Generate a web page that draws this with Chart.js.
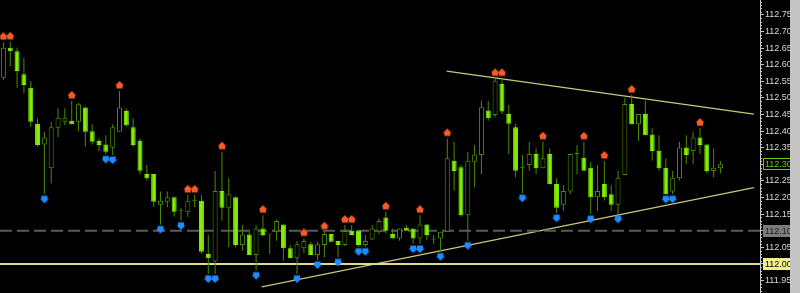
<!DOCTYPE html>
<html>
<head>
<meta charset="utf-8">
<script src="https://cdn.jsdelivr.net/npm/chart.js@4.4.1/dist/chart.umd.min.js"></script>
<style>
  html, body { margin: 0; padding: 0; background: #000; }
  #wrap { position: relative; width: 800px; height: 293px; overflow: hidden; }
</style>
</head>
<body>
<div id="wrap"><canvas id="grafico" width="800" height="293"></canvas></div>
<script>
// --- DATOS (velas) ---
const opens = [
  112.561, 112.651, 112.641, 112.571, 112.531, 112.422, 112.360, 112.288, 112.410, 112.428,
  112.431, 112.428, 112.471, 112.400, 112.370, 112.360, 112.350, 112.398, 112.461, 112.412,
  112.371, 112.271, 112.271, 112.178, 112.187, 112.201, 112.160, 112.157, 112.190, 112.190,
  112.030, 112.007, 112.220, 112.169, 112.201, 112.057, 112.089, 112.027, 112.107, 112.089,
  112.097, 112.119, 112.047, 112.017, 112.047, 112.059, 112.027, 112.057, 112.090, 112.069,
  112.057, 112.100, 112.100, 112.057, 112.074, 112.097, 112.140, 112.090, 112.077, 112.109,
  112.107, 112.077, 112.119, 112.074, 112.077, 112.097, 112.311, 112.291, 112.147, 112.308,
  112.328, 112.462, 112.449, 112.542, 112.452, 112.412, 112.290, 112.298, 112.331, 112.288,
  112.331, 112.241, 112.178, 112.218, 112.331, 112.320, 112.290, 112.201, 112.241, 112.210,
  112.178, 112.268, 112.482, 112.421, 112.452, 112.390, 112.341, 112.290, 112.218, 112.258,
  112.351, 112.340, 112.381, 112.360, 112.280, 112.288
];
const highs = [
  112.668, 112.669, 112.651, 112.621, 112.551, 112.439, 112.398, 112.428, 112.469, 112.469,
  112.491, 112.485, 112.474, 112.421, 112.378, 112.388, 112.421, 112.521, 112.469, 112.439,
  112.378, 112.298, 112.271, 112.218, 112.218, 112.202, 112.168, 112.208, 112.208, 112.208,
  112.087, 112.280, 112.338, 112.258, 112.201, 112.117, 112.097, 112.117, 112.147, 112.089,
  112.134, 112.119, 112.057, 112.069, 112.077, 112.067, 112.067, 112.097, 112.090, 112.069,
  112.117, 112.117, 112.100, 112.087, 112.117, 112.137, 112.157, 112.107, 112.107, 112.117,
  112.107, 112.147, 112.119, 112.087, 112.097, 112.378, 112.368, 112.298, 112.338, 112.358,
  112.492, 112.491, 112.559, 112.559, 112.479, 112.422, 112.328, 112.368, 112.348, 112.368,
  112.348, 112.258, 112.238, 112.331, 112.358, 112.368, 112.308, 112.298, 112.310, 112.238,
  112.281, 112.499, 112.509, 112.452, 112.492, 112.409, 112.388, 112.318, 112.281, 112.368,
  112.388, 112.398, 112.409, 112.360, 112.348, 112.310
];
const lows = [
  112.554, 112.594, 112.531, 112.514, 112.413, 112.353, 112.210, 112.242, 112.382, 112.418,
  112.421, 112.400, 112.353, 112.360, 112.340, 112.330, 112.328, 112.398, 112.413, 112.353,
  112.271, 112.251, 112.172, 112.119, 112.171, 112.142, 112.130, 112.142, 112.171, 112.030,
  111.970, 111.970, 112.130, 112.050, 112.050, 112.040, 112.027, 111.980, 112.082, 112.030,
  112.070, 112.010, 112.017, 111.970, 112.034, 112.027, 112.012, 112.020, 112.066, 112.020,
  112.054, 112.087, 112.052, 112.052, 112.072, 112.090, 112.092, 112.077, 112.070, 112.100,
  112.060, 112.060, 112.072, 112.060, 112.037, 112.097, 112.221, 112.142, 112.070, 112.231,
  112.271, 112.431, 112.442, 112.452, 112.331, 112.261, 112.213, 112.281, 112.271, 112.288,
  112.240, 112.153, 112.160, 112.211, 112.271, 112.281, 112.150, 112.160, 112.191, 112.160,
  112.150, 112.268, 112.421, 112.371, 112.388, 112.311, 112.281, 112.210, 112.210, 112.251,
  112.301, 112.301, 112.331, 112.273, 112.261, 112.273
];
const closes = [
  112.651, 112.641, 112.581, 112.539, 112.428, 112.358, 112.381, 112.412, 112.440, 112.440,
  112.421, 112.481, 112.398, 112.368, 112.358, 112.338, 112.412, 112.471, 112.418, 112.358,
  112.281, 112.258, 112.187, 112.190, 112.201, 112.157, 112.160, 112.190, 112.190, 112.037,
  112.017, 112.220, 112.169, 112.210, 112.057, 112.089, 112.027, 112.107, 112.087, 112.089,
  112.129, 112.047, 112.017, 112.059, 112.069, 112.027, 112.059, 112.090, 112.067, 112.057,
  112.099, 112.087, 112.057, 112.069, 112.107, 112.129, 112.100, 112.077, 112.107, 112.100,
  112.077, 112.119, 112.087, 112.074, 112.097, 112.318, 112.280, 112.147, 112.311, 112.330,
  112.472, 112.439, 112.552, 112.459, 112.422, 112.281, 112.290, 112.331, 112.288, 112.318,
  112.240, 112.169, 112.220, 112.331, 112.331, 112.281, 112.201, 112.220, 112.201, 112.178,
  112.260, 112.482, 112.421, 112.452, 112.388, 112.340, 112.288, 112.210, 112.260, 112.351,
  112.328, 112.381, 112.358, 112.280, 112.290, 112.300
];

// fractales (indices de vela)
const fractalesArriba = [0, 1, 10, 17, 27, 28, 32, 38, 44, 47, 50, 51, 56, 61, 65, 72, 73, 79, 85, 88, 92, 102];
const fractalesAbajo = [6, 15, 16, 23, 26, 30, 31, 37, 43, 46, 49, 52, 53, 60, 61, 64, 68, 76, 81, 86, 90, 97, 98];

// lineas dibujadas: [indice, precio]
const tendenciaSuperior = [[64.9, 112.581], [109.9, 112.451]];
const tendenciaInferior = [[37.82, 111.931], [109.9, 112.230]];
const nivelSoporte = 112.000;
const nivelDiscontinuo = 112.100;

// eje de precios
const precioMin = 111.9125;
const precioMax = 112.795;
const pasoEtiqueta = 0.05;
const xMin = -0.5;
const xMax = 110.79;

// --- ESTILOS ---
const VERDE = '#80f000';
const VERDE_OSC = '#4a8c00';
const GRIS_EJE = '#c8c8c8';
const FUENTE = "'Liberation Sans Narrow', 'Liberation Sans', Arial, sans-serif";

function crearFlecha(arriba, color) {
    const c = document.createElement('canvas');
    c.width = 20; c.height = 26;
    const g = c.getContext('2d');
    g.fillStyle = color;
    g.translate(10, arriba ? 13 - 6 : 13 + 5);
    const s = arriba ? 1 : -1;
    g.beginPath();
    g.moveTo(0, -4 * s);
    g.lineTo(4.5, 0.5 * s);
    g.lineTo(3, 0.5 * s);
    g.lineTo(3, 3.5 * s);
    g.lineTo(-3, 3.5 * s);
    g.lineTo(-3, 0.5 * s);
    g.lineTo(-4.5, 0.5 * s);
    g.closePath();
    g.fill();
    return c;
}

const flechaRoja = crearFlecha(true, '#f85a28');
const flechaAzul = crearFlecha(false, '#1e8cff');

const esAlcista = i => closes[i] >= opens[i];

// --- PLUGIN: marcas menores, etiquetas de precio y borde ---
const marcasEje = {
    id: 'marcasEje',
    afterDraw(chart) {
        const ctx = chart.ctx;
        const ey = chart.scales.y;
        const x0 = ey.left;
        ctx.save();
        ctx.strokeStyle = GRIS_EJE;
        ctx.lineWidth = 1;
        for (let k = Math.ceil(ey.min * 100); k <= Math.floor(ey.max * 100); k++) {
            if (k % 5 === 0) continue;
            const py = Math.round(ey.getPixelForValue(k / 100)) + 0.5;
            ctx.beginPath();
            ctx.moveTo(x0, py);
            ctx.lineTo(x0 + 2, py);
            ctx.stroke();
        }

        const etiquetas = [
            { v: closes[closes.length - 1], fondo: '#000', borde: '#5fd400', texto: '#5fd400' },
            { v: nivelDiscontinuo, fondo: '#7c7c7c', borde: '#7c7c7c', texto: '#202020' },
            { v: nivelSoporte, fondo: '#f0f08c', borde: '#f0f08c', texto: '#000' }
        ];
        ctx.font = '9px ' + FUENTE;
        ctx.textBaseline = 'middle';
        etiquetas.forEach(e => {
            const py = Math.round(ey.getPixelForValue(e.v));
            ctx.fillStyle = e.fondo;
            ctx.fillRect(x0 + 3, py - 6, 40, 12);
            ctx.strokeStyle = e.borde;
            ctx.strokeRect(x0 + 3.5, py - 5.5, 40, 11);
            ctx.fillStyle = e.texto;
            ctx.fillText(e.v.toFixed(3), x0 + 5, py + 0.5);
        });

        ctx.fillStyle = '#c4c4c4';
        ctx.fillRect(790, 0, 10, chart.height);
        ctx.restore();
    }
};

const idx = opens.map((_, i) => i);

new Chart(document.getElementById('grafico'), {
    type: 'bar',
    data: {
        datasets: [
            {
                type: 'line',
                data: fractalesArriba.map(i => ({ x: i, y: highs[i] })),
                showLine: false,
                pointStyle: flechaRoja,
                pointRadius: 3,
                order: 0
            },
            {
                type: 'line',
                data: fractalesAbajo.map(i => ({ x: i, y: lows[i] })),
                showLine: false,
                pointStyle: flechaAzul,
                pointRadius: 3,
                order: 0
            },
            {
                data: idx.map(i => ({ x: i, y: [opens[i], closes[i]] })),
                backgroundColor: c => esAlcista(c.dataIndex) ? '#000' : VERDE,
                borderColor: c => esAlcista(c.dataIndex) ? VERDE_OSC : VERDE,
                borderWidth: 1,
                borderSkipped: false,
                barThickness: 5,
                minBarLength: 1,
                grouped: false,
                inflateAmount: 0,
                order: 1
            },
            {
                data: idx.map(i => ({ x: i, y: [lows[i], highs[i]] })),
                backgroundColor: VERDE_OSC,
                borderWidth: 0,
                barThickness: 1,
                grouped: false,
                inflateAmount: 0,
                order: 2
            },
            {
                type: 'line',
                data: [{ x: xMin, y: nivelSoporte }, { x: xMax, y: nivelSoporte }],
                borderColor: '#dcdc8c',
                borderWidth: 2,
                pointRadius: 0,
                order: 3
            },
            {
                type: 'line',
                data: [{ x: xMin, y: nivelDiscontinuo }, { x: xMax, y: nivelDiscontinuo }],
                borderColor: '#5a5a5a',
                borderWidth: 2,
                borderDash: [12, 5],
                pointRadius: 0,
                order: 3
            },
            {
                type: 'line',
                data: tendenciaSuperior.map(p => ({ x: p[0], y: p[1] })),
                borderColor: '#c8c87a',
                borderWidth: 1.2,
                pointRadius: 0,
                order: 3
            },
            {
                type: 'line',
                data: tendenciaInferior.map(p => ({ x: p[0], y: p[1] })),
                borderColor: '#c8c87a',
                borderWidth: 1.2,
                pointRadius: 0,
                order: 3
            }
        ]
    },
    options: {
        responsive: false,
        animation: false,
        events: [],
        devicePixelRatio: 1,
        layout: { padding: 0, autoPadding: false },
        plugins: { legend: { display: false }, tooltip: { enabled: false } },
        scales: {
            x: {
                type: 'linear',
                min: xMin,
                max: xMax,
                offset: false,
                display: false
            },
            y: {
                position: 'right',
                min: precioMin,
                max: precioMax,
                afterFit: s => {
                    s.width = 40;
                    s.paddingTop = 0;
                    s.paddingBottom = 0;
                },
                border: { display: true, color: GRIS_EJE, width: 1 },
                grid: { drawOnChartArea: false, drawTicks: true, tickLength: 4, tickColor: GRIS_EJE, tickWidth: 1 },
                ticks: {
                    stepSize: pasoEtiqueta,
                    includeBounds: false,
                    autoSkip: false,
                    color: '#d8d8d8',
                    padding: 1,
                    font: { family: FUENTE, size: 9 },
                    callback: v => v.toFixed(3)
                }
            }
        }
    },
    plugins: [marcasEje]
});
</script>
</body>
</html>
